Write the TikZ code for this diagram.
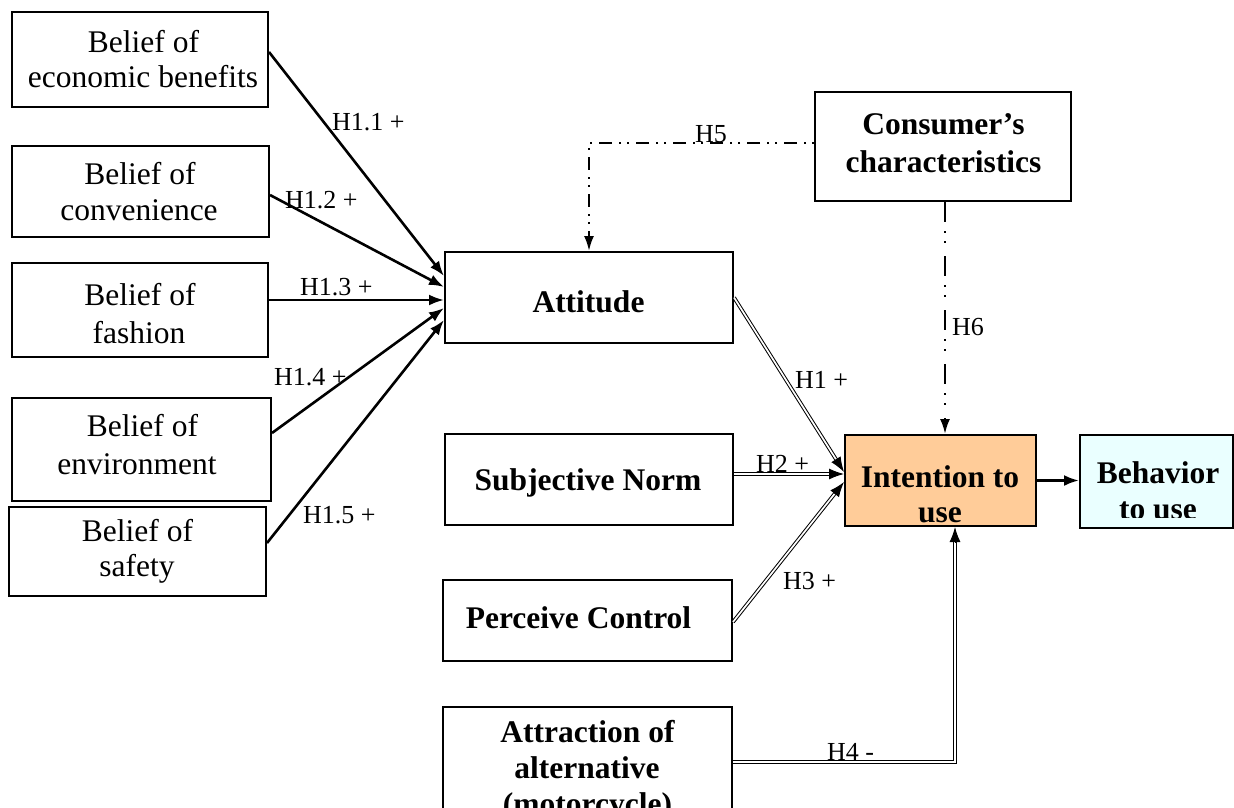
\documentclass[tikz,border=0pt]{standalone}
\usepackage{fontspec}
\setmainfont{Liberation Serif}
\usetikzlibrary{arrows.meta,calc}
\definecolor{peach}{RGB}{255,204,153}
\definecolor{paleCyan}{RGB}{234,255,255}
\tikzset{
  box/.style={draw, line width=2pt, inner sep=0pt, rectangle},
  txt/.style={anchor=base, inner sep=0pt, font=\fontsize{31.5}{36}\selectfont},
  btxt/.style={anchor=base, inner sep=0pt, font=\fontsize{31.5}{36}\selectfont\bfseries},
  lbl/.style={anchor=base west, inner sep=0pt, font=\fontsize{26}{30}\selectfont},
  arr/.style={line width=2.6pt, -{Latex[length=15pt,width=11pt]}},
  dbl/.style={double, line width=1pt, double distance=1.7pt, shorten >=12pt},
  tipend/.style={line width=1pt, -{Latex[length=15pt,width=11pt]}},
  ddfive/.style={line width=2.2pt, dash pattern=on 2pt off 6pt on 2pt off 7pt on 13pt off 7pt, -{Latex[length=15pt,width=10pt]}},
  ddsix/.style={line width=2.2pt, dash pattern=on 20pt off 9pt on 2pt off 8pt on 2pt off 13pt, -{Latex[length=15pt,width=10pt]}}
}
\begin{document}
\begin{tikzpicture}[x=1pt,y=-1pt]
\clip (0,0) rectangle (1234,808);

% boxes
\node[box, minimum width=256pt, minimum height=94pt] (econ) at (140,59.5) {};
\node[box, minimum width=257pt, minimum height=91pt] (conv) at (140.5,191.5) {};
\node[box, minimum width=256pt, minimum height=94pt] (fash) at (140,310) {};
\node[box, minimum width=259pt, minimum height=103pt] (env) at (141.5,449.5) {};
\node[box, minimum width=257pt, minimum height=89pt] (safe) at (137.5,551.5) {};
\node[box, minimum width=288pt, minimum height=91pt] (att) at (589,297.5) {};
\node[box, minimum width=256pt, minimum height=109pt] (cons) at (943,146.5) {};
\node[box, minimum width=288pt, minimum height=91pt] (subj) at (589,479.5) {};
\node[box, minimum width=289pt, minimum height=81pt] (perc) at (587.5,620.5) {};
\node[box, minimum width=289pt, minimum height=133pt] (attr) at (587.5,773.5) {};
\node[box, fill=peach, minimum width=191pt, minimum height=91pt] (int) at (940.5,480.5) {};
\node[box, fill=paleCyan, minimum width=153pt, minimum height=93pt] (beh) at (1156.5,481.5) {};

% texts
\node[txt] at (143.5,52.7) {Belief of};
\node[txt] at (143,88) {economic benefits};
\node[txt] at (140,184) {Belief of};
\node[txt] at (139,220.7) {convenience};
\node[txt] at (140,305) {Belief of};
\node[txt] at (139,343) {fashion};
\node[txt] at (142.5,436) {Belief of};
\node[txt] at (137,474) {environment};
\node[txt] at (137.5,541.7) {Belief of};
\node[txt] at (137,576.7) {safety};
\node[btxt] at (588.5,312) {Attitude};
\node[btxt] at (943.5,134.5) {Consumer’s};
\node[btxt] at (943.5,172) {characteristics};
\node[btxt] at (588,490) {Subjective Norm};
\node[btxt] at (578.5,628) {Perceive Control};
\node[btxt] at (587.5,742) {Attraction of};
\node[btxt] at (587,778) {alternative};
\node[btxt] at (587.5,814) {(motorcycle)};
\node[btxt] at (940,487) {Intention to};
\node[btxt] at (940,522) {use};
\begin{scope}
  \clip (1080,435) rectangle (1233,517);
  \node[btxt] at (1158,483) {Behavior};
  \node[btxt] at (1158,519) {to use};
\end{scope}

% belief arrows
\draw[arr] ([yshift=7.5pt]econ.east) -- ([yshift=21.5pt]att.west);
\draw[arr] ([yshift=-3.5pt]conv.east) -- ([yshift=10.5pt]att.west);
\draw[arr] ([yshift=10pt]fash.east) -- ([yshift=-2.5pt]att.west);
\draw[arr] ([yshift=16.5pt]env.east) -- ([yshift=-10.5pt]att.west);
\draw[arr] ([yshift=8.5pt]safe.east) -- ([yshift=-22.5pt]att.west);

% double arrows
\coordinate (h1a) at (att.east);
\coordinate (h1b) at ([yshift=8.5pt]int.west);
\draw[dbl] (h1a) -- (h1b);
\draw[tipend] ($(h1b)!15pt!(h1a)$) -- (h1b);

\coordinate (h2a) at ([yshift=5.5pt]subj.east);
\coordinate (h2b) at ([yshift=6.5pt]int.west);
\draw[dbl] (h2a) -- (h2b);
\draw[tipend] ($(h2b)!15pt!(h2a)$) -- (h2b);

\coordinate (h3a) at ([yshift=-1.5pt]perc.east);
\coordinate (h3b) at ([yshift=-1.5pt]int.west);
\draw[dbl] (h3a) -- (h3b);
\draw[tipend] ($(h3b)!15pt!(h3a)$) -- (h3b);

\coordinate (h4a) at ([yshift=11.5pt]attr.east);
\coordinate (h4b) at ([xshift=14.5pt]int.south);
\draw[dbl] (h4a) -| (h4b);
\draw[tipend] ($(h4b)+(0,15)$) -- (h4b);

% moderator arrows
\draw[ddfive] ([yshift=3.5pt]cons.west) -| (att.north);
\draw[ddsix] ([xshift=2pt]cons.south) -- ([xshift=4.5pt]int.north);

% intention -> behavior
\draw[arr] (int.east) -- (int.east -| beh.west);

% labels
\node[lbl] at (332,130) {H1.1 +};
\node[lbl] at (285,208) {H1.2 +};
\node[lbl] at (300,295) {H1.3 +};
\node[lbl] at (274,385) {H1.4 +};
\node[lbl] at (303,523) {H1.5 +};
\node[lbl] at (695,142) {H5};
\node[lbl] at (952,335) {H6};
\node[lbl] at (795,388) {H1 +};
\node[lbl] at (756,472) {H2 +};
\node[lbl] at (783,589) {H3 +};
\node[lbl] at (827,760) {H4 -};
\end{tikzpicture}
\end{document}
